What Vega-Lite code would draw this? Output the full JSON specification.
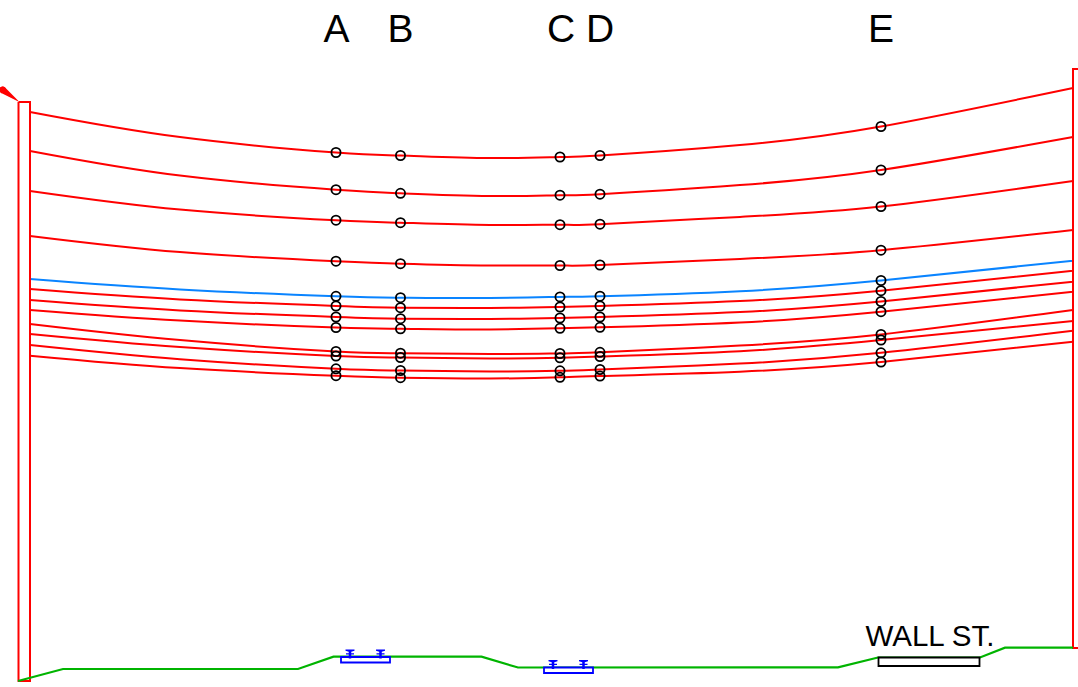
{"$schema":"https://vega.github.io/schema/vega-lite/v6.json","width":1078,"height":687,"padding":0,"autosize":"none","background":"white","view":{"stroke":null},
"datasets":{
"cables":[
{"s":"C01","t":"red","x":30,"y":112},{"s":"C01","t":"red","x":180,"y":137.1},{"s":"C01","t":"red","x":336,"y":152.5,"p":"A"},{"s":"C01","t":"red","x":400.5,"y":155.5,"p":"B"},{"s":"C01","t":"red","x":490,"y":158},{"s":"C01","t":"red","x":560,"y":157,"p":"C"},{"s":"C01","t":"red","x":600,"y":155.5,"p":"D"},{"s":"C01","t":"red","x":740,"y":145.1},{"s":"C01","t":"red","x":881,"y":126.5,"p":"E"},{"s":"C01","t":"red","x":1073,"y":88},
{"s":"C02","t":"red","x":30,"y":151},{"s":"C02","t":"red","x":180,"y":175.6},{"s":"C02","t":"red","x":336,"y":189.7,"p":"A"},{"s":"C02","t":"red","x":400.5,"y":193.3,"p":"B"},{"s":"C02","t":"red","x":490,"y":196},{"s":"C02","t":"red","x":560,"y":195.2,"p":"C"},{"s":"C02","t":"red","x":600,"y":194.2,"p":"D"},{"s":"C02","t":"red","x":740,"y":185.1},{"s":"C02","t":"red","x":881,"y":170,"p":"E"},{"s":"C02","t":"red","x":1073,"y":137},
{"s":"C03","t":"red","x":30,"y":191},{"s":"C03","t":"red","x":180,"y":209.6},{"s":"C03","t":"red","x":336,"y":220.2,"p":"A"},{"s":"C03","t":"red","x":400.5,"y":222.7,"p":"B"},{"s":"C03","t":"red","x":490,"y":225},{"s":"C03","t":"red","x":560,"y":224.7,"p":"C"},{"s":"C03","t":"red","x":600,"y":224.2,"p":"D"},{"s":"C03","t":"red","x":740,"y":216.9},{"s":"C03","t":"red","x":881,"y":206.5,"p":"E"},{"s":"C03","t":"red","x":1073,"y":181},
{"s":"C04","t":"red","x":30,"y":236},{"s":"C04","t":"red","x":180,"y":252.1},{"s":"C04","t":"red","x":336,"y":261.2,"p":"A"},{"s":"C04","t":"red","x":400.5,"y":263.7,"p":"B"},{"s":"C04","t":"red","x":490,"y":265.5},{"s":"C04","t":"red","x":560,"y":265.5,"p":"C"},{"s":"C04","t":"red","x":600,"y":265,"p":"D"},{"s":"C04","t":"red","x":740,"y":259},{"s":"C04","t":"red","x":881,"y":250.2,"p":"E"},{"s":"C04","t":"red","x":1073,"y":230},
{"s":"C05","t":"blue","x":30,"y":279},{"s":"C05","t":"blue","x":180,"y":289.4},{"s":"C05","t":"blue","x":336,"y":296.3,"p":"A"},{"s":"C05","t":"blue","x":400.5,"y":297.7,"p":"B"},{"s":"C05","t":"blue","x":490,"y":298},{"s":"C05","t":"blue","x":560,"y":296.9,"p":"C"},{"s":"C05","t":"blue","x":600,"y":296.2,"p":"D"},{"s":"C05","t":"blue","x":740,"y":291.2},{"s":"C05","t":"blue","x":881,"y":280.5,"p":"E"},{"s":"C05","t":"blue","x":1073,"y":260.7},
{"s":"C06","t":"red","x":30,"y":289},{"s":"C06","t":"red","x":180,"y":299.4},{"s":"C06","t":"red","x":336,"y":306,"p":"A"},{"s":"C06","t":"red","x":400.5,"y":307.7,"p":"B"},{"s":"C06","t":"red","x":490,"y":308},{"s":"C06","t":"red","x":560,"y":307,"p":"C"},{"s":"C06","t":"red","x":600,"y":306,"p":"D"},{"s":"C06","t":"red","x":740,"y":301.1},{"s":"C06","t":"red","x":881,"y":290.7,"p":"E"},{"s":"C06","t":"red","x":1073,"y":270.7},
{"s":"C07","t":"red","x":30,"y":300},{"s":"C07","t":"red","x":180,"y":310.4},{"s":"C07","t":"red","x":336,"y":317,"p":"A"},{"s":"C07","t":"red","x":400.5,"y":318.7,"p":"B"},{"s":"C07","t":"red","x":490,"y":319},{"s":"C07","t":"red","x":560,"y":318,"p":"C"},{"s":"C07","t":"red","x":600,"y":317,"p":"D"},{"s":"C07","t":"red","x":740,"y":312.1},{"s":"C07","t":"red","x":881,"y":301.5,"p":"E"},{"s":"C07","t":"red","x":1073,"y":281.7},
{"s":"C08","t":"red","x":30,"y":310},{"s":"C08","t":"red","x":180,"y":320.6},{"s":"C08","t":"red","x":336,"y":327.5,"p":"A"},{"s":"C08","t":"red","x":400.5,"y":328.8,"p":"B"},{"s":"C08","t":"red","x":490,"y":329.5},{"s":"C08","t":"red","x":560,"y":328.3,"p":"C"},{"s":"C08","t":"red","x":600,"y":327.3,"p":"D"},{"s":"C08","t":"red","x":740,"y":322.5},{"s":"C08","t":"red","x":881,"y":311.7,"p":"E"},{"s":"C08","t":"red","x":1073,"y":291.7},
{"s":"C09","t":"red","x":30,"y":324},{"s":"C09","t":"red","x":180,"y":340.1},{"s":"C09","t":"red","x":336,"y":351.5,"p":"A"},{"s":"C09","t":"red","x":400.5,"y":353.2,"p":"B"},{"s":"C09","t":"red","x":490,"y":354},{"s":"C09","t":"red","x":560,"y":353.5,"p":"C"},{"s":"C09","t":"red","x":600,"y":352.3,"p":"D"},{"s":"C09","t":"red","x":740,"y":345.5},{"s":"C09","t":"red","x":881,"y":334.5,"p":"E"},{"s":"C09","t":"red","x":1073,"y":310},
{"s":"C10","t":"red","x":30,"y":334},{"s":"C10","t":"red","x":180,"y":347.1},{"s":"C10","t":"red","x":336,"y":356,"p":"A"},{"s":"C10","t":"red","x":400.5,"y":357.5,"p":"B"},{"s":"C10","t":"red","x":490,"y":358.5},{"s":"C10","t":"red","x":560,"y":357.8,"p":"C"},{"s":"C10","t":"red","x":600,"y":356.5,"p":"D"},{"s":"C10","t":"red","x":740,"y":351.2},{"s":"C10","t":"red","x":881,"y":340,"p":"E"},{"s":"C10","t":"red","x":1073,"y":321},
{"s":"C11","t":"red","x":30,"y":345},{"s":"C11","t":"red","x":180,"y":359.2},{"s":"C11","t":"red","x":336,"y":368.8,"p":"A"},{"s":"C11","t":"red","x":400.5,"y":370.5,"p":"B"},{"s":"C11","t":"red","x":490,"y":371.5},{"s":"C11","t":"red","x":560,"y":370.8,"p":"C"},{"s":"C11","t":"red","x":600,"y":369.5,"p":"D"},{"s":"C11","t":"red","x":740,"y":363.6},{"s":"C11","t":"red","x":881,"y":352.8,"p":"E"},{"s":"C11","t":"red","x":1073,"y":330.7},
{"s":"C12","t":"red","x":30,"y":355.7},{"s":"C12","t":"red","x":180,"y":368.1},{"s":"C12","t":"red","x":336,"y":375.7,"p":"A"},{"s":"C12","t":"red","x":400.5,"y":377.7,"p":"B"},{"s":"C12","t":"red","x":490,"y":378.5},{"s":"C12","t":"red","x":560,"y":377.3,"p":"C"},{"s":"C12","t":"red","x":600,"y":376,"p":"D"},{"s":"C12","t":"red","x":740,"y":371.7},{"s":"C12","t":"red","x":881,"y":362,"p":"E"},{"s":"C12","t":"red","x":1073,"y":341.7}],
"outlines":[
{"g":"left tower","c":"red","i":1,"x":18.5,"y":102},{"g":"left tower","c":"red","i":2,"x":30,"y":102},{"g":"left tower","c":"red","i":3,"x":30,"y":681},{"g":"left tower","c":"red","i":4,"x":18.5,"y":681},{"g":"left tower","c":"red","i":5,"x":18.5,"y":102},
{"g":"right tower","c":"red","i":1,"x":1078,"y":69},{"g":"right tower","c":"red","i":2,"x":1073,"y":69},{"g":"right tower","c":"red","i":3,"x":1073,"y":648},{"g":"right tower","c":"red","i":4,"x":1078,"y":648},
{"g":"ground","c":"green","i":1,"x":18,"y":681},{"g":"ground","c":"green","i":2,"x":63,"y":669},{"g":"ground","c":"green","i":3,"x":298,"y":669},{"g":"ground","c":"green","i":4,"x":333.5,"y":656.7},{"g":"ground","c":"green","i":5,"x":481.5,"y":656.7},{"g":"ground","c":"green","i":6,"x":518,"y":667.5},{"g":"ground","c":"green","i":7,"x":838,"y":667.3},{"g":"ground","c":"green","i":8,"x":878,"y":657.5},{"g":"ground","c":"green","i":9,"x":980,"y":657.5},{"g":"ground","c":"green","i":10,"x":1005,"y":647.7},{"g":"ground","c":"green","i":11,"x":1073,"y":647.7}],
"decks":[
{"k":"blue","x":341,"x2":390,"y":657,"y2":662.5},{"k":"blue","x":544,"x2":593,"y":667.5,"y2":673},{"k":"black","x":878.5,"x2":979.5,"y":657.5,"y2":666}],
"columns":[{"x":350,"y":653.5},{"x":380.5,"y":653.5},{"x":553,"y":664},{"x":583.5,"y":664}],
"labels":[{"t":"A","x":336.5,"y":30},{"t":"B","x":400.5,"y":30},{"t":"C","x":561,"y":30},{"t":"D","x":600,"y":30},{"t":"E","x":881,"y":30}],
"street":[{"t":"WALL ST.","x":930,"y":636.5}],
"arrow":[{"i":1,"x":0,"y":88,"w":2},{"i":2,"x":2.5,"y":89.8,"w":2},{"i":3,"x":2.8,"y":90,"w":7},{"i":4,"x":18,"y":101,"w":0.8}]},
"encoding":{"x":{"field":"x","type":"quantitative","scale":{"domain":[0,1078],"nice":false,"zero":false},"axis":null},"y":{"field":"y","type":"quantitative","scale":{"domain":[687,0],"nice":false,"zero":false},"axis":null}},
"layer":[
{"data":{"name":"cables"},"mark":{"type":"line","interpolate":"natural","strokeWidth":2},"encoding":{"detail":{"field":"s"},"color":{"field":"t","type":"nominal","scale":{"domain":["red","blue"],"range":["#ff0000","#0a84ff"]},"legend":null}}},
{"data":{"name":"outlines"},"transform":[{"filter":"datum.c==='red'"}],"mark":{"type":"line","strokeWidth":2,"color":"#ff0000"},"encoding":{"detail":{"field":"g"},"order":{"field":"i"}}},
{"data":{"name":"outlines"},"transform":[{"filter":"datum.c==='green'"}],"mark":{"type":"line","strokeWidth":2.2,"color":"#00b400"},"encoding":{"order":{"field":"i"}}},
{"data":{"name":"arrow"},"mark":{"type":"trail","color":"#ff0000"},"encoding":{"order":{"field":"i"},"size":{"field":"w","type":"quantitative","scale":null}}},
{"data":{"name":"decks"},"transform":[{"filter":"datum.k==='blue'"}],"mark":{"type":"rect","fill":"white","stroke":"#0000ff","strokeWidth":1.8},"encoding":{"x2":{"field":"x2"},"y2":{"field":"y2"}}},
{"data":{"name":"decks"},"transform":[{"filter":"datum.k==='black'"}],"mark":{"type":"rect","fill":"white","stroke":"#000000","strokeWidth":1.8},"encoding":{"x2":{"field":"x2"},"y2":{"field":"y2"}}},
{"data":{"name":"columns"},"mark":{"type":"point","filled":true,"color":"#0000ff","size":100,"opacity":1,"shape":"M -0.9 -0.8 L 0.9 -0.8 L 0.9 -0.55 L 0.25 -0.35 L 0.25 -0.05 L 0.8 -0.05 L 0.8 0.2 L 0.25 0.2 L 0.25 1 L -0.25 1 L -0.25 0.2 L -0.8 0.2 L -0.8 -0.05 L -0.25 -0.05 L -0.25 -0.35 L -0.9 -0.55 Z"}},
{"data":{"name":"cables"},"transform":[{"filter":"isValid(datum.p)"}],"mark":{"type":"point","shape":"circle","filled":false,"color":"#000000","size":84,"strokeWidth":1.8,"opacity":1}},
{"data":{"name":"labels"},"mark":{"type":"text","font":"Liberation Sans","fontSize":39,"color":"#000000","align":"center","baseline":"middle"},"encoding":{"text":{"field":"t"}}},
{"data":{"name":"street"},"mark":{"type":"text","font":"Liberation Sans","fontSize":29.5,"color":"#000000","align":"center","baseline":"middle"},"encoding":{"text":{"field":"t"}}}
]}
